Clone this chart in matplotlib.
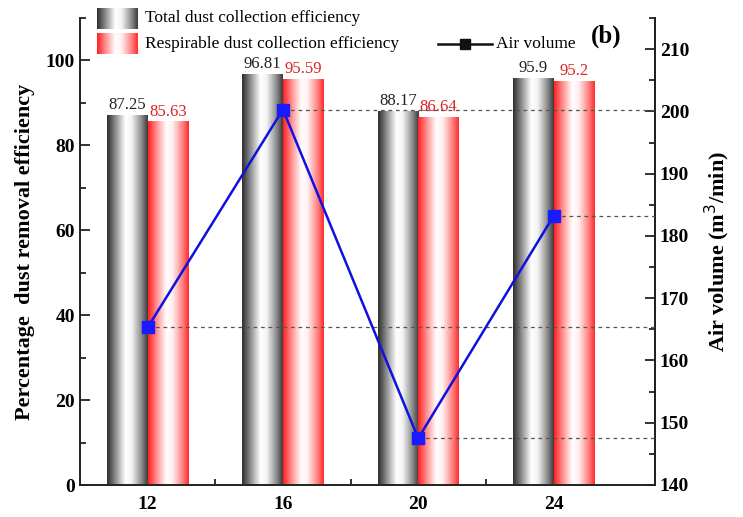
import numpy as np
import matplotlib
matplotlib.use('Agg')
import matplotlib.pyplot as plt
from matplotlib.colors import LinearSegmentedColormap
from matplotlib.lines import Line2D

plt.rcParams['font.family'] = ['Liberation Serif', 'DejaVu Serif']

# data
speeds = [12, 16, 20, 24]
total_eff = [87.25, 96.81, 88.17, 95.9]
resp_eff = [85.63, 95.59, 86.64, 95.2]
air_volume = [165.3, 200.3, 147.5, 183.2]

W, H = 743, 517
fig = plt.figure(figsize=(W / 100, H / 100), dpi=100)
ax = fig.add_axes([80 / W, 1 - 485 / H, (655 - 80) / W, (485 - 18) / H])
ax2 = ax.twinx()

black_cm = LinearSegmentedColormap.from_list(
    'blk', [(0, '#2c2c2c'), (0.2, '#8a8a8a'), (0.45, '#ffffff'), (0.6, '#f4f4f4'), (0.85, '#8a8a8a'), (1, '#3a3a3a')])
red_cm = LinearSegmentedColormap.from_list(
    'red', [(0, '#ff1e1e'), (0.2, '#ff8a8a'), (0.45, '#ffffff'), (0.6, '#fff0f0'), (0.85, '#ff8080'), (1, '#ff2a2a')])
grad = np.linspace(0, 1, 256).reshape(1, -1)

bw = 1.2
x = np.array(speeds, dtype=float)
b1 = ax.bar(x - bw / 2, total_eff, width=bw, facecolor='none', edgecolor='none')
b2 = ax.bar(x + bw / 2, resp_eff, width=bw, facecolor='none', edgecolor='none')


def shade(bars, cmap):
    for r in bars:
        x0, y0, w, h = r.get_x(), r.get_y(), r.get_width(), r.get_height()
        im = ax.imshow(grad, extent=[x0, x0 + w, y0, y0 + h], aspect='auto',
                       cmap=cmap, interpolation='bicubic', zorder=2)
        im.set_clip_path(r)


shade(b1, black_cm)
shade(b2, red_cm)

for xi, v in zip(x, total_eff):
    ax.text(xi - bw / 2, v + 0.4, f'{v:g}', ha='center', va='bottom', fontsize=12, color='#222222')
for xi, v in zip(x, resp_eff):
    ax.text(xi + bw / 2, v + 0.4, f'{v:g}', ha='center', va='bottom', fontsize=12, color='#e02020')

ax.set_xlim(10, 27)
ax.set_ylim(0, 110)
ax.set_xticks(speeds)
ax.set_xticks([14, 18, 22], minor=True)
ax.set_yticks(np.arange(0, 101, 20))
ax.set_yticks(np.arange(10, 111, 20), minor=True)

# air volume on the right axis
ax2.plot(x, air_volume, color='#1010e0', lw=1.8, marker='s', ms=8,
         mfc='#1a1aff', mec='#1a1aff', zorder=5)
ax2.hlines(air_volume, x, 27, colors='#555555', linestyles=(0, (3, 3)), lw=0.9, zorder=4)
ax2.set_ylim(140, 215)
ax2.set_yticks(np.arange(140, 211, 10))
ax2.set_yticks(np.arange(145, 216, 10), minor=True)
ax2.set_xlim(10, 27)

for a in (ax, ax2):
    a.spines['top'].set_visible(False)
    for s in a.spines.values():
        s.set_linewidth(1.4)
        s.set_color('#222222')
    a.tick_params(which='both', direction='in', width=1.3, color='#222222')
    a.tick_params(which='major', length=7)
    a.tick_params(which='minor', length=4)
    for lab in a.get_yticklabels() + a.get_xticklabels():
        lab.set_fontweight('bold')
        lab.set_fontsize(14)
ax.tick_params(axis='x', which='major', length=4, pad=8)
ax.tick_params(axis='x', which='minor', length=4)
ax2.spines['left'].set_visible(False)
ax2.spines['bottom'].set_visible(False)

ax.set_ylabel('Percentage  dust removal efficiency', fontsize=16, fontweight='bold', labelpad=8)
ax2.set_ylabel('Air volume (m$^3$/min)', fontsize=16, fontweight='bold', labelpad=10)

# legend, drawn by hand
def px(xp, yp):
    return xp / W, 1 - yp / H

for (ytop, cm) in [(8, black_cm), (33, red_cm)]:
    sax = fig.add_axes([97 / W, 1 - (ytop + 21) / H, 41 / W, 21 / H])
    sax.imshow(grad, aspect='auto', cmap=cm, interpolation='bicubic')
    sax.axis('off')
fig.text(*px(145, 18), 'Total dust collection efficiency', fontsize=12.5, va='center', ha='left')
fig.text(*px(145, 44), 'Respirable dust collection efficiency', fontsize=12.5, va='center', ha='left')
x0, x1 = px(438, 44)[0], px(492, 44)[0]
yl = px(0, 44)[1]
fig.add_artist(Line2D([x0, x1], [yl, yl], color='#111111', lw=1.8, transform=fig.transFigure))
fig.add_artist(Line2D([(x0 + x1) / 2], [yl], color='#111111', marker='s', ms=7, transform=fig.transFigure))
fig.text(*px(496, 44), 'Air volume', fontsize=12.5, va='center', ha='left')
fig.text(*px(606, 36), '(b)', fontsize=18, fontweight='bold', va='center', ha='center')

fig.savefig('out.png', dpi=100)
